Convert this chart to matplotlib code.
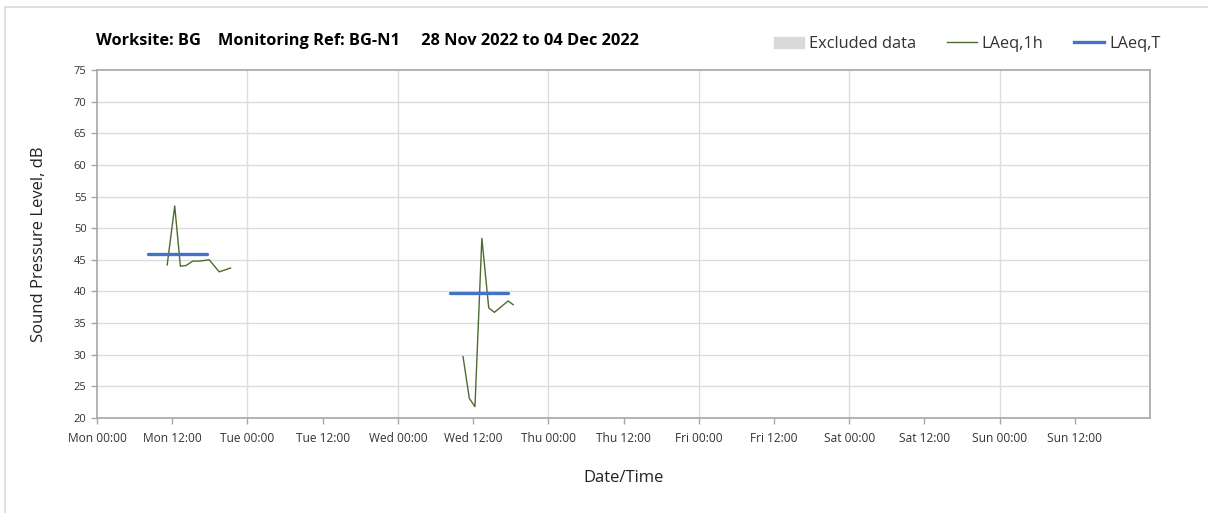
import numpy as np
import matplotlib.pyplot as plt
import matplotlib.patches as mpatches
from matplotlib.lines import Line2D

# Hours since Mon 00:00 and hourly LAeq values
mon_hours = [11.2, 12.4, 13.3, 14.2, 15.3, 16.4, 17.9, 19.5, 21.3]
mon_laeq = [44.2, 53.5, 44.0, 44.1, 44.8, 44.8, 45.0, 43.1, 43.7]
wed_hours = [48 + h for h in [10.4, 11.4, 12.3, 13.4, 14.5, 15.4, 17.6, 18.4]]
wed_laeq = [29.7, 23.1, 21.8, 48.4, 37.4, 36.7, 38.5, 37.9]

# LAeq,T period levels (start hour, end hour, level)
period_start = [8.2, 56.3]
period_end = [17.5, 65.6]
period_level = [45.9, 39.7]

tick_labels = ["Mon 00:00", "Mon 12:00", "Tue 00:00", "Tue 12:00", "Wed 00:00",
               "Wed 12:00", "Thu 00:00", "Thu 12:00", "Fri 00:00", "Fri 12:00",
               "Sat 00:00", "Sat 12:00", "Sun 00:00", "Sun 12:00"]

green = "#4e6b2f"
blue = "#4472c4"
grid_c = "#dcdcdc"
spine_c = "#a6a6a6"
font = ["Open Sans", "DejaVu Sans"]

fig = plt.figure(figsize=(12.08, 5.13), dpi=100)
ax = fig.add_axes([97 / 1208, 1 - 418 / 513, (1150 - 97) / 1208, (418 - 70) / 513])

# light border around the chart area
fig.add_artist(mpatches.Rectangle((5 / 1208, -0.1), 1.1, 1 - 7 / 513 + 0.1,
                                  transform=fig.transFigure, fill=False,
                                  edgecolor="#d9d9d9", linewidth=1.2))

ax.plot(mon_hours, mon_laeq, color=green, linewidth=1.0)
ax.plot(wed_hours, wed_laeq, color=green, linewidth=1.0)
for s, e, lv in zip(period_start, period_end, period_level):
    ax.plot([s, e], [lv, lv], color=blue, linewidth=2.4, solid_capstyle="round")

ax.set_xlim(0, 168)
ax.set_ylim(20, 75)
ax.set_yticks(np.arange(20, 76, 5))
ax.set_xticks(np.arange(0, 168, 12))
ax.set_xticklabels(tick_labels, fontfamily=font, fontsize=8.6, color="#333333")
for lab in ax.get_yticklabels():
    lab.set_fontfamily(font)
    lab.set_fontsize(8)
    lab.set_color("#333333")

# horizontal grid every 5 dB, vertical grid only at day boundaries
for y in np.arange(25, 75, 5):
    ax.axhline(y, color=grid_c, linewidth=1.0, zorder=0)
for d in range(24, 168, 24):
    ax.axvline(d, color=grid_c, linewidth=1.0, zorder=0)

for sp in ax.spines.values():
    sp.set_color(spine_c)
    sp.set_linewidth(1.2)
ax.tick_params(axis="both", direction="out", length=4, color=spine_c, width=1)
ax.tick_params(axis="x", pad=6)

ax.set_ylabel("Sound Pressure Level, dB", fontfamily=font, fontsize=12, color="#222222", labelpad=19)
ax.set_xlabel("Date/Time", fontfamily=font, fontsize=12, color="#222222", labelpad=18)

fig.text(96 / 1208, 1 - 41 / 513, "Worksite: BG    Monitoring Ref: BG-N1     28 Nov 2022 to 04 Dec 2022",
         fontfamily=font, fontsize=11.8, fontweight="bold", va="center", ha="left")

handles = [mpatches.Patch(color="#d9d9d9"),
           Line2D([], [], color=green, linewidth=1.0),
           Line2D([], [], color=blue, linewidth=2.4)]
fig.legend(handles, ["Excluded data", "LAeq,1h", "LAeq,T"], ncol=3, frameon=False,
           loc="center right", bbox_to_anchor=(1175 / 1208, 1 - 44 / 513),
           prop={"family": font, "size": 11.8}, handlelength=1.8, handletextpad=0.3,
           columnspacing=1.9, labelcolor="#333333")

fig.savefig("out.png", dpi=100)
